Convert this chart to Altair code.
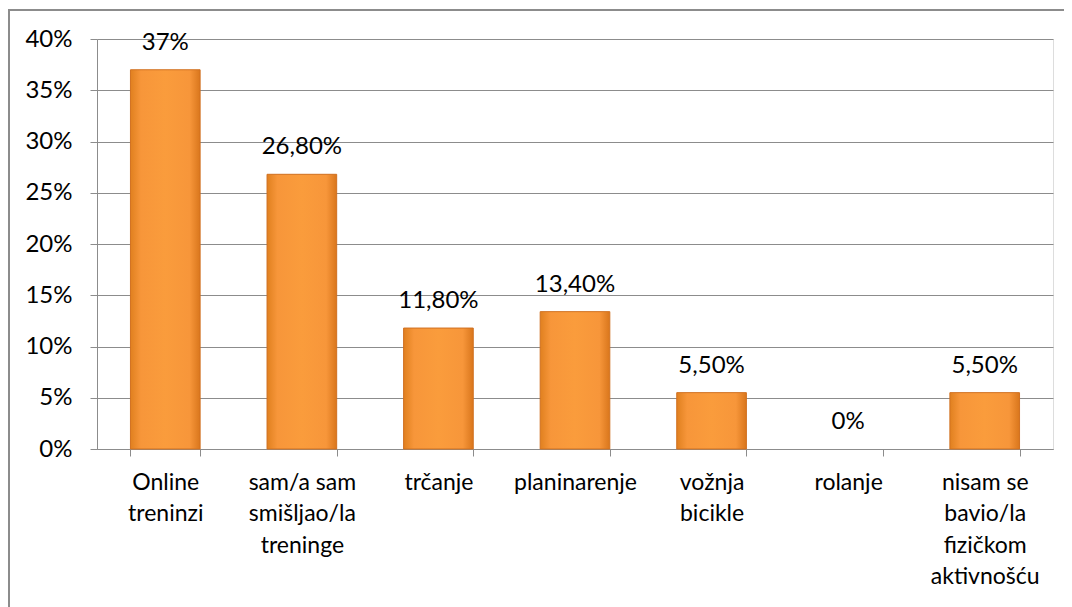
import altair as alt
import pandas as pd

categories = ["Online|treninzi", "sam/a sam|smišljao/la|treninge", "trčanje", "planinarenje",
              "vožnja|bicikle", "rolanje", "nisam se|bavio/la|fizičkom|aktivnošću"]
values = [0.37, 0.268, 0.118, 0.134, 0.055, 0.0, 0.055]
value_labels = ["37%", "26,80%", "11,80%", "13,40%", "5,50%", "0%", "5,50%"]

df = pd.DataFrame({"cat": categories, "val": values, "lab": value_labels})

FONT = "Lato"
FS = 24
GRAY = "#8c8c8c"

x = alt.X("cat:N", sort=categories, title=None,
          scale=alt.Scale(paddingInner=0.49, paddingOuter=0.245),
          axis=alt.Axis(labelAngle=0, labelExpr="split(datum.label, '|')",
                        labelFont=FONT, labelFontSize=23, labelColor="#000000",
                        labelLineHeight=31.5, labelPadding=15, labelBaseline="top",
                        tickBand="extent", tickSize=7, tickColor=GRAY,
                        domainColor=GRAY, grid=False, labelLimit=200))
y = alt.Y("val:Q", title=None,
          scale=alt.Scale(domain=[0, 0.4], nice=False),
          axis=alt.Axis(format=".0%", values=[0, .05, .1, .15, .2, .25, .3, .35, .4],
                        labelFont=FONT, labelFontSize=FS, labelColor="#000000",
                        labelPadding=18, tickSize=7, tickColor=GRAY,
                        domainColor=GRAY, gridColor=GRAY, gridWidth=1))

bars = alt.Chart(df).transform_filter("datum.val > 0").mark_bar(
    color={"gradient": "linear", "x1": 0, "x2": 1, "y1": 0, "y2": 0,
           "stops": [{"offset": 0, "color": "#E0801F"},
                     {"offset": 0.15, "color": "#F7963A"},
                     {"offset": 0.5, "color": "#FA9C3C"},
                     {"offset": 0.85, "color": "#F7963A"},
                     {"offset": 1, "color": "#D9761C"}]},
    stroke="#D07020", strokeWidth=1
).encode(x=x, y=y)

texts = alt.Chart(df).mark_text(font=FONT, fontSize=FS, color="#000000",
                                baseline="alphabetic", dy=-20).encode(
    x=alt.X("cat:N", sort=categories), y="val:Q", text="lab:N")

border = alt.Chart(df).mark_rect(fill=None, stroke=GRAY, strokeWidth=1.5).encode(
    x=alt.value(-88), x2=alt.value(1000), y=alt.value(-29), y2=alt.value(700))

chart = alt.layer(border, bars, texts).properties(
    width=956, height=410,
    autosize=alt.AutoSizeParams(type="none"),
    padding={"left": 89, "top": 31, "right": 11, "bottom": 158},
).configure_view(stroke=None).configure(background="#ffffff")

chart.save("out.html", embed_options={"renderer": "svg", "actions": False})
